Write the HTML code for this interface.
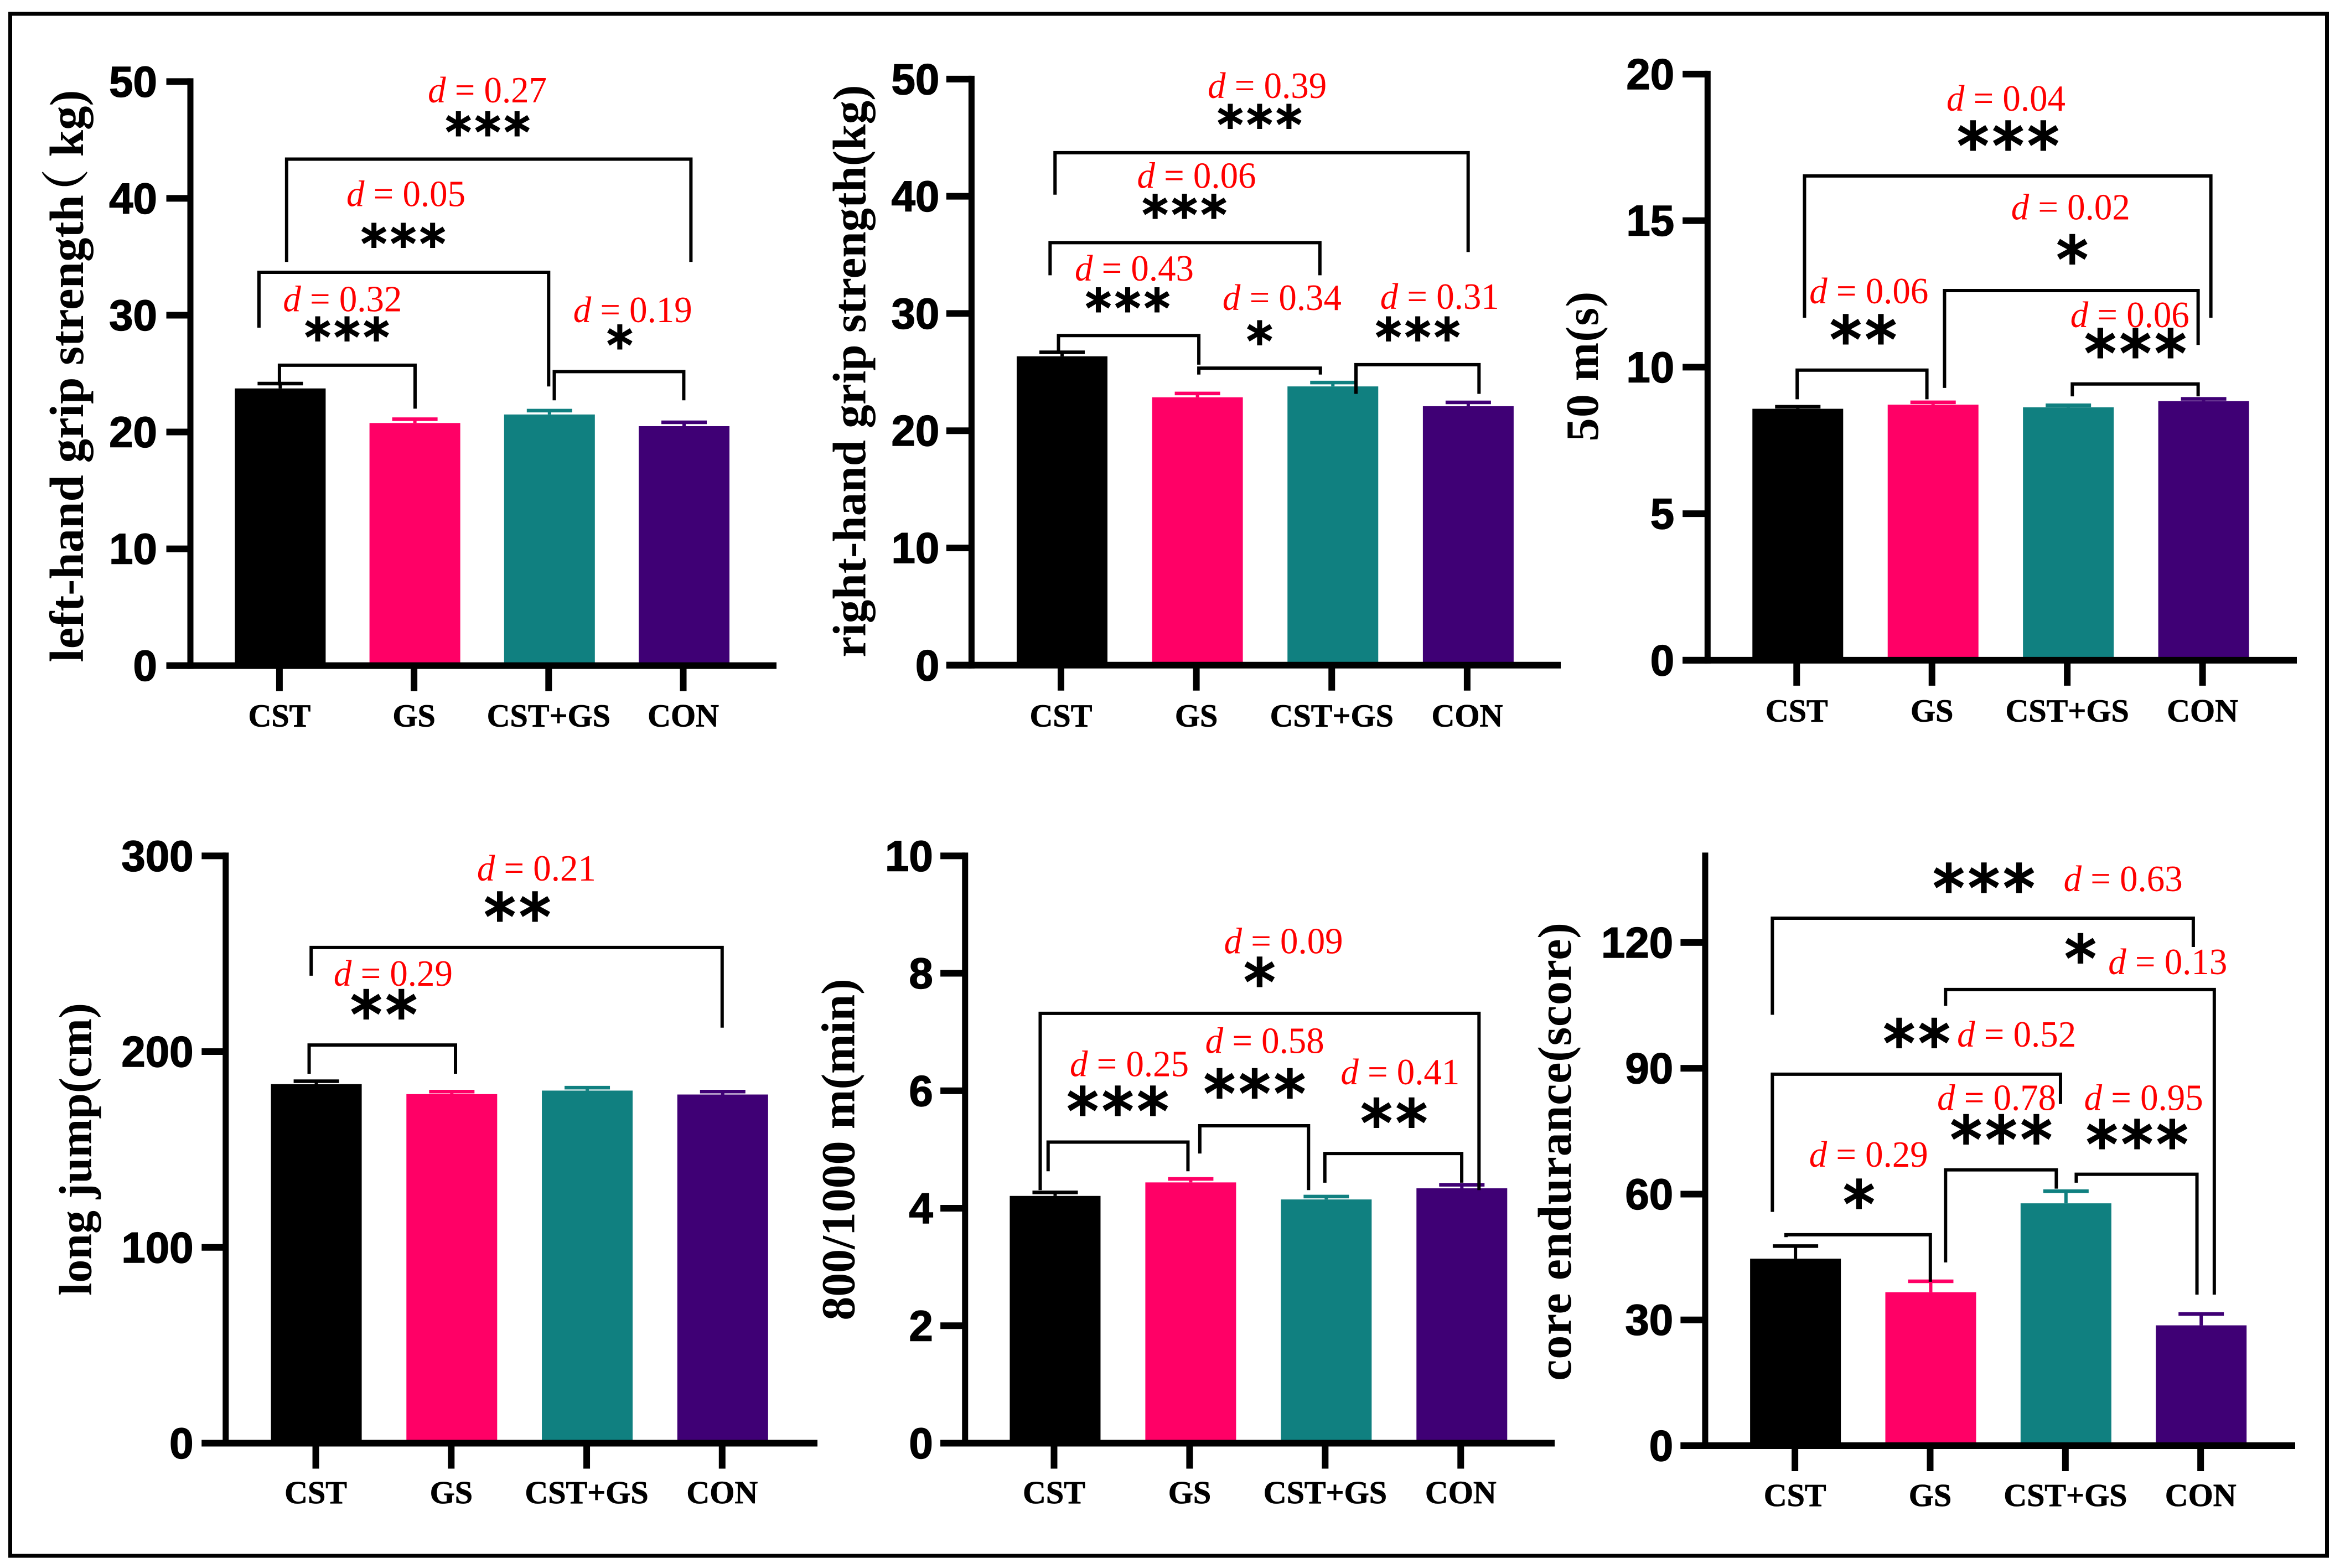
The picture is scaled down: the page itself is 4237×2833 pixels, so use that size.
<!DOCTYPE html>
<html>
<head>
<meta charset="utf-8">
<title>Physical fitness bar charts</title>
<style>
html,body{margin:0;padding:0;background:#fff;}
svg{display:block;}
</style>
</head>
<body>
<svg id="chart" xmlns="http://www.w3.org/2000/svg" width="4237" height="2833" viewBox="0 0 4237 2833">
<rect x="0" y="0" width="4237" height="2833" fill="#ffffff"/>
<rect x="18.5" y="25" width="4186" height="2786" fill="none" stroke="#000000" stroke-width="7"/>
</svg>
<script>
const categories = ['CST', 'GS', 'CST+GS', 'CON'];
const barColors = ['#000000', '#FF0066', '#108080', '#3F0075'];

const leftGripMeans = [23.73, 20.77, 21.5, 20.5];
const leftGripErrors = [0.42, 0.33, 0.33, 0.33];
const leftGripTicks = [0, 10, 20, 30, 40, 50];

const rightGripMeans = [26.35, 22.85, 23.78, 22.09];
const rightGripErrors = [0.34, 0.33, 0.33, 0.33];
const rightGripTicks = [0, 10, 20, 30, 40, 50];

const sprintMeans = [8.58, 8.72, 8.63, 8.84];
const sprintErrors = [0.07, 0.08, 0.07, 0.08];
const sprintTicks = [0, 5, 10, 15, 20];

const jumpMeans = [183.4, 178.3, 180.1, 178.1];
const jumpErrors = [1.5, 1.3, 1.5, 1.5];
const jumpTicks = [0, 100, 200, 300];

const runMeans = [4.21, 4.44, 4.15, 4.34];
const runErrors = [0.06, 0.06, 0.05, 0.06];
const runTicks = [0, 2, 4, 6, 8, 10];

const coreMeans = [44.6, 36.6, 57.8, 28.7];
const coreErrors = [3.0, 2.6, 2.9, 2.7];
const coreTicks = [0, 30, 60, 90, 120];

const svg = document.getElementById('chart');
const NS = 'http://www.w3.org/2000/svg';
function make(tag, attrs, parent) {
  const node = document.createElementNS(NS, tag);
  for (const k in attrs) node.setAttribute(k, attrs[k]);
  parent.appendChild(node);
  return node;
}
const SERIF = '"Liberation Serif", serif';
const SANS = '"Liberation Sans", sans-serif';
const STAR = '"DejaVu Sans", sans-serif';

function drawPanel(p) {
  const m = p.map;
  const X = v => m.ox + v / m.sx;
  const Y = v => m.oy + v / m.sy;
  const axisX = X(p.axisX), y0 = Y(p.y0), yTick = Y(p.yTopTick);
  const yScale = v => y0 - (v / p.tickMax) * (y0 - yTick);
  const xScale = i => X(p.firstCat) + i * (X(p.lastCat) - X(p.firstCat)) / (categories.length - 1);
  const barW = 164, capW = 82;

  const g = make('g', {}, svg);
  
  

  p.values.forEach(function (v, i) {
    const cx = xScale(i) + p.barShift;
    const bar = make('rect', { x: cx - barW / 2, y: yScale(v), width: barW, height: y0 - yScale(v), fill: barColors[i] }, g);
    
    
    const top = yScale(v + p.errors[i]);
    const stem = make('line', { x1: cx, x2: cx, y1: yScale(v), y2: top, stroke: barColors[i], 'stroke-width': 6 }, g);
    
    
    const cap = make('line', { x1: cx - capW / 2, x2: cx + capW / 2, y1: top, y2: top, stroke: barColors[i], 'stroke-width': 6.5 }, g);
    
    
  });

  const yAxis = make('line', { x1: axisX, x2: axisX, y1: Y(p.axisTop) - 6, y2: y0 + 6, stroke: '#000', 'stroke-width': 11 }, g);
  
  
  const xAxis = make('line', { x1: X(p.tickLeft), x2: m.ox + p.xRightPx, y1: y0, y2: y0, stroke: '#000', 'stroke-width': 12 }, g);
  
  

  p.ticks.forEach(function (t) {
    const tick = make('line', { x1: X(p.tickLeft), x2: axisX, y1: yScale(t), y2: yScale(t), stroke: '#000', 'stroke-width': 12 }, g);
    
    
    const lab = make('text', { x: X(p.numRight), y: yScale(t) + 27, 'text-anchor': 'end', 'font-family': SANS, 'font-weight': 700, 'font-size': 78, fill: '#000', stroke: '#000', 'stroke-width': 1.5 }, g);
    lab.textContent = String(t);
    
    
  });

  categories.forEach(function (c, i) {
    const cx = xScale(i);
    const tick = make('line', { x1: cx, x2: cx, y1: y0, y2: y0 + 46, stroke: '#000', 'stroke-width': 12 }, g);
    
    
    const lab = make('text', { x: cx, y: Y(p.labelBase), 'text-anchor': 'middle', 'font-family': SERIF, 'font-weight': 700, 'font-size': 58, fill: '#000', stroke: '#000', 'stroke-width': 0.8 }, g);
    lab.textContent = c;
    
    
  });

  const tx = X(p.titleX), ty = Y(p.titleStart);
  const titleAttrs = { x: tx, y: ty, transform: 'rotate(-90 ' + tx + ' ' + ty + ')', 'font-family': '"Liberation Serif", "Noto Serif CJK SC", serif', 'font-weight': 700, 'font-size': p.titleSize, fill: '#000' };
  const title = make('text', titleAttrs, g);
  if (p.titleParts) {
    p.titleParts.forEach(function (part) {
      const sp = make('tspan', { dx: part[1] }, title);
      sp.textContent = part[0];
    });
  } else {
    title.textContent = p.title;
    title.setAttribute('textLength', (p.titleStart - p.titleEnd) / m.sy);
    title.setAttribute('lengthAdjust', 'spacing');
  }
  
  

  p.brackets.forEach(function (b) {
    const d = 'M' + X(b[0]) + ' ' + Y(b[3]) + 'L' + X(b[0]) + ' ' + Y(b[2]) + 'L' + X(b[1]) + ' ' + Y(b[2]) + 'L' + X(b[1]) + ' ' + Y(b[4]);
    const path = make('path', { d: d, fill: 'none', stroke: '#000', 'stroke-width': 6 }, g);
    
    
  });

  p.stars.forEach(function (s) {
    const size = p.starSize, gap = 7.5;
    const star = make('text', { x: X(s[1]) + gap / 2, y: Y(s[2]) + size * 0.47, 'text-anchor': 'middle', 'font-family': STAR, 'font-size': size, 'letter-spacing': gap, fill: '#000', stroke: '#000', 'stroke-width': 4 }, g);
    star.textContent = s[0];
    
    
  });

  p.effects.forEach(function (e) {
    const t = make('text', { x: X(e[1]), y: Y(e[2]), 'font-family': SERIF, 'font-size': 67, fill: '#ff0000', textLength: 215, lengthAdjust: 'spacingAndGlyphs' }, g);
    const it = make('tspan', { 'font-style': 'italic' }, t);
    it.textContent = 'd';
    const rest = make('tspan', {}, t);
    rest.textContent = ' = ' + e[0];
    
    
  });
}

drawPanel({
  name: 'left-hand-grip-panel', map: { ox: 0, oy: 0, sx: 1.0814, sy: 1.12 },
  values: leftGripMeans, errors: leftGripErrors, ticks: leftGripTicks, tickMax: 50,
  axisX: 372, tickLeft: 325, yTopTick: 165, axisTop: 165, y0: 1347, xRightPx: 1403,
  firstCat: 546, lastCat: 1335, barShift: 1.5, numRight: 307, labelBase: 1470,
  titleParts: [['left-hand grip strength', 0], ['（', -40], [' kg)', 0]], titleX: 162, titleStart: 1340, titleSize: 87, starSize: 91,
  brackets: [[560, 1350, 322, 530, 530], [506, 1072, 551, 663, 782], [546, 811, 739, 780, 827], [1083, 1336, 752, 810, 810]],
  stars: [['***', 953, 255], ['***', 788, 481], ['***', 678, 670], ['*', 1211, 686]],
  effects: [['0.27', 836, 207], ['0.05', 677, 417], ['0.32', 553, 630], ['0.19', 1120, 652]]
});

drawPanel({
  name: 'right-hand-grip-panel', map: { ox: 1450, oy: 0, sx: 1.12, sy: 1.12 },
  values: rightGripMeans, errors: rightGripErrors, ticks: rightGripTicks, tickMax: 50,
  axisX: 342, tickLeft: 291, yTopTick: 160, axisTop: 160, y0: 1346, xRightPx: 1370,
  firstCat: 523, lastCat: 1345, barShift: 2, numRight: 277, labelBase: 1470,
  title: 'right-hand grip strength(kg)', titleX: 127, titleStart: 1330, titleEnd: 172, titleSize: 85, starSize: 91,
  brackets: [[511, 1347, 309, 394, 510], [501, 1047, 491, 557, 557], [518, 802, 679, 712, 738], [802, 1048, 745, 758, 758], [1120, 1369, 738, 797, 797]],
  stars: [['***', 925, 240], ['***', 773, 422], ['***', 658, 611], ['*', 925, 678], ['***', 1245, 670]],
  effects: [['0.39', 820, 198], ['0.06', 677, 380], ['0.43', 551, 568], ['0.34', 850, 627], ['0.31', 1169, 625]]
});

drawPanel({
  name: 'fifty-metre-panel', map: { ox: 2850, oy: 0, sx: 1.1305, sy: 1.12 },
  values: sprintMeans, errors: sprintErrors, ticks: sprintTicks, tickMax: 20,
  axisX: 266, tickLeft: 215, yTopTick: 150, axisTop: 150, y0: 1336, xRightPx: 1300,
  firstCat: 448, lastCat: 1277, barShift: 2, numRight: 198, labelBase: 1460,
  title: '50 m(s)', titleX: 42, titleStart: 893, titleEnd: 590, titleSize: 84, starSize: 112,
  brackets: [[464, 1294, 356, 643, 643], [750, 1268, 588, 785, 698], [449, 714, 749, 808, 808], [1011, 1268, 777, 802, 802]],
  stars: [['***', 880, 280], ['*', 1011, 510], ['**', 584, 672], ['***', 1140, 700]],
  effects: [['0.04', 754, 224], ['0.02', 886, 444], ['0.06', 474, 614], ['0.06', 1007, 662]]
});

drawPanel({
  name: 'long-jump-panel', map: { ox: 0, oy: 1430, sx: 1.0814, sy: 1.1176 },
  values: jumpMeans, errors: jumpErrors, ticks: jumpTicks, tickMax: 300,
  axisX: 441, tickLeft: 394, yTopTick: 130, axisTop: 130, y0: 1316, xRightPx: 1477,
  firstCat: 617, lastCat: 1411, barShift: 1, numRight: 378, labelBase: 1437,
  title: 'long jump(cm)', titleX: 178, titleStart: 1018, titleEnd: 427, titleSize: 84, starSize: 112,
  brackets: [[608, 1411, 315, 372, 477], [604, 890, 512, 570, 570]],
  stars: [['**', 1011, 238], ['**', 750, 435]],
  effects: [['0.21', 932, 180], ['0.29', 652, 392]]
});

drawPanel({
  name: 'endurance-run-panel', map: { ox: 1450, oy: 1430, sx: 1.12, sy: 1.1176 },
  values: runMeans, errors: runErrors, ticks: runTicks, tickMax: 10,
  axisX: 329, tickLeft: 279, yTopTick: 130, axisTop: 130, y0: 1316, xRightPx: 1359,
  firstCat: 509, lastCat: 1332, barShift: 2, numRight: 264, labelBase: 1437,
  title: '800/1000 m(min)', titleX: 105, titleStart: 1068, titleEnd: 378, titleSize: 86, starSize: 112,
  brackets: [[481, 1369, 448, 805, 805], [497, 780, 708, 767, 767], [804, 1024, 675, 731, 805], [1057, 1334, 731, 790, 790]],
  stars: [['*', 925, 370], ['***', 638, 630], ['***', 915, 595], ['**', 1197, 654]],
  effects: [['0.09', 853, 327], ['0.25', 541, 575], ['0.58', 815, 528], ['0.41', 1089, 591]]
});

drawPanel({
  name: 'core-endurance-panel', map: { ox: 2750, oy: 1430, sx: 1.0545, sy: 1.1176 },
  values: coreMeans, errors: coreErrors, ticks: coreTicks, tickMax: 120,
  axisX: 349, tickLeft: 302, yTopTick: 305, axisTop: 130, y0: 1321, xRightPx: 1397,
  firstCat: 520, lastCat: 1293, barShift: 1, numRight: 288, labelBase: 1443,
  title: 'core endurance(score)', titleX: 93, titleStart: 1190, titleEnd: 265, titleSize: 86, starSize: 112,
  brackets: [[477, 1279, 256, 451, 314], [807, 1319, 400, 433, 1016], [477, 1026, 571, 849, 631], [807, 1018, 764, 951, 802], [1056, 1286, 773, 790, 1016], [503, 778, 895, 900, 990]],
  stars: [['***', 880, 180], ['*', 1064, 322], ['**', 752, 493], ['***', 913, 688], ['***', 1172, 697], ['*', 642, 818]],
  effects: [['0.63', 1032, 201], ['0.13', 1117, 369], ['0.52', 829, 515], ['0.78', 791, 643], ['0.95', 1071, 643], ['0.29', 547, 758]]
});
</script>
</body>
</html>
